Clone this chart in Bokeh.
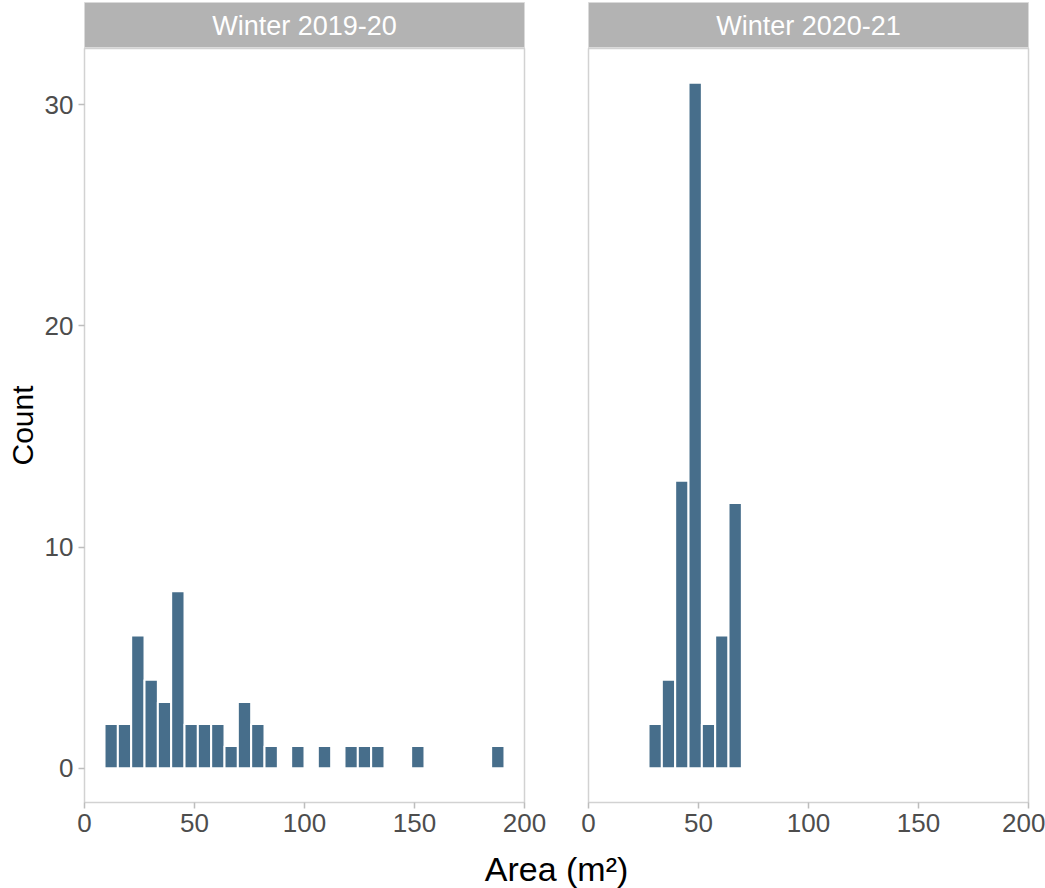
import numpy as np
from bokeh.plotting import figure
from bokeh.layouts import column, row
from bokeh.models import Range1d, FixedTicker, Label, ColumnDataSource
from bokeh.embed import file_html
from bokeh.resources import INLINE

# ---------------- data ----------------
panel_titles = ["Winter 2019-20", "Winter 2020-21"]
bin_start = 9.1          # left edge of first histogram bin (m^2)
bin_width = 6.06         # histogram bin width (m^2)
counts_2019_20 = [2, 2, 6, 4, 3, 8, 2, 2, 2, 1, 3, 2, 1, 0, 1, 0, 1, 0, 1, 1,
                  1, 0, 0, 1, 0, 0, 0, 0, 0, 1]
counts_2020_21 = [0, 0, 0, 2, 4, 13, 31, 2, 6, 12, 0, 0, 0, 0, 0, 0, 0, 0, 0, 0,
                  0, 0, 0, 0, 0, 0, 0, 0, 0, 0]
x_ticks = [0, 50, 100, 150, 200]
y_ticks = [0, 10, 20, 30]
x_title = "Area (m²)"
y_title = "Count"

# ---------------- style ----------------
FONT = "Liberation Sans"
BAR = "#476E8B"
BORDER = "#D2D2D2"
TICK = "#BDBDBD"
TICKLAB = "#4D4D4D"
STRIP = "#B3B3B3"

PANEL_W = 440
PANEL_H = 754
STRIP_TOP = 2
STRIP_H = 46
BOTTOM = 46
TITLE_H = 40

geom = [dict(left=84, right=24), dict(left=40, right=17)]


def make_strip(text, left, right):
    s = figure(width=left + PANEL_W + right, height=STRIP_TOP + STRIP_H,
               x_range=Range1d(0, 1), y_range=Range1d(0, 1),
               min_border_left=left, min_border_right=right,
               min_border_top=STRIP_TOP, min_border_bottom=0,
               x_axis_location=None, y_axis_location=None,
               toolbar_location=None, output_backend="svg",
               background_fill_color=STRIP, border_fill_color="white",
               outline_line_color="#DADADA", outline_line_width=1)
    s.xgrid.visible = False
    s.ygrid.visible = False
    s.add_layout(Label(x=0.5, y=0.5, text=text, text_align="center",
                       text_baseline="middle", text_color="white",
                       text_font=FONT, text_font_size="27px"))
    return s


def make_panel(counts, left, right, show_y):
    counts = np.array(counts)
    edges = bin_start + bin_width * np.arange(len(counts) + 1)
    keep = counts > 0
    src = ColumnDataSource(dict(left=edges[:-1][keep], right=edges[1:][keep],
                                top=counts[keep]))
    p = figure(width=left + PANEL_W + right, height=PANEL_H + BOTTOM,
               x_range=Range1d(0, 200), y_range=Range1d(-1.55, 32.55),
               min_border_left=left, min_border_right=right,
               min_border_top=0, min_border_bottom=BOTTOM,
               y_axis_location="left" if show_y else None,
               toolbar_location=None, output_backend="svg",
               background_fill_color="white", border_fill_color="white")
    p.quad(left="left", right="right", bottom=0, top="top", source=src,
           fill_color=BAR, line_color="white", line_width=2)
    p.xgrid.grid_line_color = None
    p.ygrid.grid_line_color = None
    p.outline_line_color = BORDER
    p.outline_line_width = 1.5

    axes = [p.xaxis[0]] + ([p.yaxis[0]] if show_y else [])
    for ax in axes:
        ax.axis_line_color = None
        ax.major_tick_line_color = TICK
        ax.major_tick_line_width = 1.5
        ax.major_tick_out = 6
        ax.major_tick_in = 0
        ax.minor_tick_line_color = None
        ax.major_label_text_font = FONT
        ax.major_label_text_font_size = "26px"
        ax.major_label_text_color = TICKLAB
        ax.major_label_standoff = 5
    p.xaxis.ticker = FixedTicker(ticks=x_ticks)
    if show_y:
        p.yaxis.ticker = FixedTicker(ticks=y_ticks)
        p.yaxis.axis_label = y_title
        p.yaxis.axis_label_text_font = FONT
        p.yaxis.axis_label_text_font_size = "30px"
        p.yaxis.axis_label_text_font_style = "normal"
        p.yaxis.axis_label_text_color = "black"
        p.yaxis.axis_label_standoff = 3
    return p


s1 = make_strip(panel_titles[0], **geom[0])
s2 = make_strip(panel_titles[1], **geom[1])
p1 = make_panel(counts_2019_20, geom[0]["left"], geom[0]["right"], True)
p2 = make_panel(counts_2020_21, geom[1]["left"], geom[1]["right"], False)

w1 = geom[0]["left"] + PANEL_W + geom[0]["right"]
w2 = geom[1]["left"] + PANEL_W + geom[1]["right"]
total_w = w1 + w2
center_x = (geom[0]["left"] + w1 + geom[1]["left"] + PANEL_W) / 2

t = figure(width=total_w, height=TITLE_H, x_range=Range1d(0, total_w),
           y_range=Range1d(0, 1), min_border=0,
           x_axis_location=None, y_axis_location=None,
           toolbar_location=None, output_backend="svg",
           outline_line_color=None)
t.xgrid.visible = False
t.ygrid.visible = False
t.add_layout(Label(x=center_x, y=0.5, text=x_title, text_align="center",
                   text_baseline="middle", text_color="black",
                   text_font=FONT, text_font_size="34px"))

layout = column(row(column(s1, p1), column(s2, p2)), t)

open("out.html", "w").write(file_html(layout, INLINE))
